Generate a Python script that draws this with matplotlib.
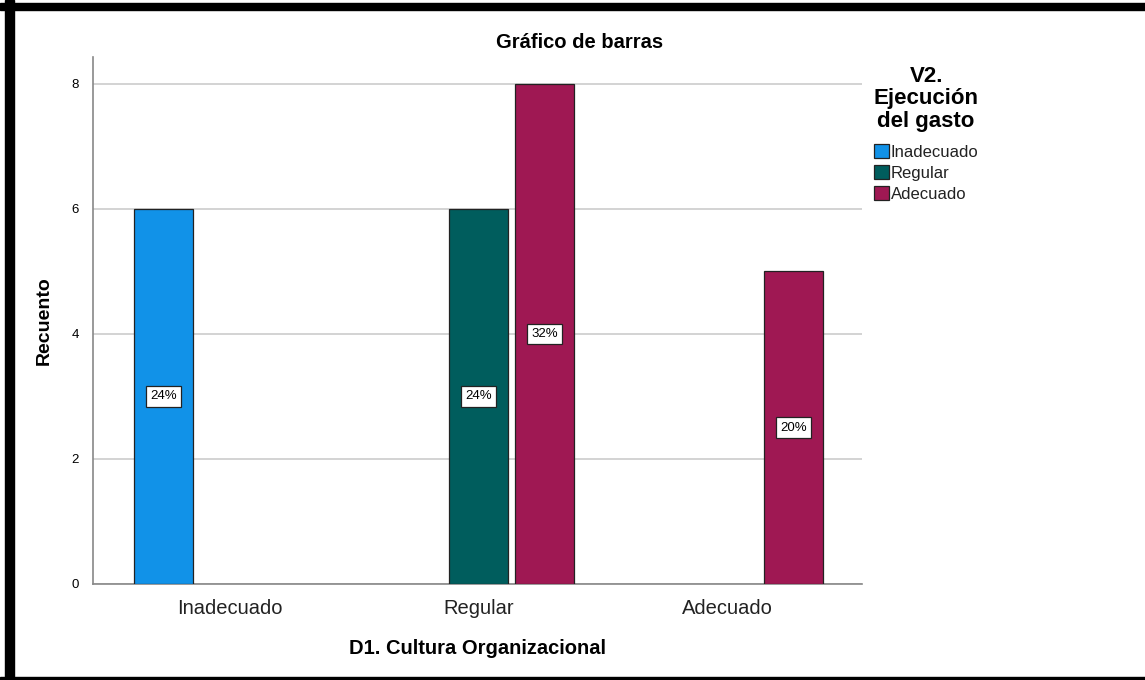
import numpy as np
import matplotlib
matplotlib.use("Agg")
import matplotlib.pyplot as plt
from matplotlib.patches import Rectangle

plt.rcParams['font.family'] = ['Liberation Sans', 'DejaVu Sans']

# datos
categorias = ["Inadecuado", "Regular", "Adecuado"]
series = ["Inadecuado", "Regular", "Adecuado"]
recuento_inadecuado = [6, 0, 0]
recuento_regular = [0, 6, 0]
recuento_adecuado = [0, 8, 5]
colores = ["#1192e8", "#005d5d", "#9f1853"]

valores = [recuento_inadecuado, recuento_regular, recuento_adecuado]
total = sum(sum(v) for v in valores)

fig = plt.figure(figsize=(11.45, 6.8), dpi=100)
ax = fig.add_axes([0.0812, 0.1412, 0.6716, 0.775])

x = np.arange(len(categorias))
paso = 0.265
ancho = 0.237
for i, (nombre, vals, c) in enumerate(zip(series, valores, colores)):
    desplaz = (i - 1) * paso
    # solo las barras con recuento, para no dibujar bordes en cero
    xs = [xi + desplaz for xi, v in zip(x, vals) if v > 0]
    hs = [v for v in vals if v > 0]
    ax.bar(xs, hs, width=ancho, color=c, edgecolor="#222222",
           linewidth=0.9, label=nombre, zorder=3)
    for xi, v in zip(xs, hs):
        ax.text(xi, v / 2, f"{round(v / total * 100)}%",
                ha="center", va="center", fontsize=9.5, zorder=4,
                bbox=dict(boxstyle="square,pad=0.32", fc="white",
                          ec="#222222", lw=0.9))

ax.set_xlim(-0.55, 2.54)
ax.set_ylim(0, 8.43)
ax.set_yticks([0, 2, 4, 6, 8])
ax.set_xticks(x)
ax.set_xticklabels(categorias, fontsize=14.5, color="#222222")
ax.tick_params(axis="y", labelsize=9.5, length=0, pad=10)
ax.tick_params(axis="x", length=0, pad=11)
ax.grid(axis="y", color="#cccccc", linewidth=1.2, zorder=0)
for lado in ["top", "right"]:
    ax.spines[lado].set_visible(False)
for lado in ["left", "bottom"]:
    ax.spines[lado].set_color("#888888")
    ax.spines[lado].set_linewidth(1.2)

fig.text(580 / 1145, 1 - 42 / 680, "Gráfico de barras", fontsize=14.5,
         fontweight="bold", ha="center", va="center")
ax.set_ylabel("Recuento", fontsize=14, fontweight="bold", labelpad=14)
ax.set_xlabel("D1. Cultura Organizacional", fontsize=14.5, fontweight="bold",
              labelpad=15)

leg = ax.legend(title="V2.\nEjecución\ndel gasto", loc="upper left",
                bbox_to_anchor=(1.0, 1.005), frameon=False, fontsize=12,
                handlelength=0.9, handleheight=0.9, handletextpad=0.1,
                labelspacing=0.33, borderaxespad=0.3, alignment="center")
leg.get_title().set_fontweight("bold")
leg.get_title().set_fontsize(16)
leg.get_title().set_linespacing(1.08)
leg.get_title().set_multialignment("center")
leg._legend_box.sep = 9
for t in leg.get_texts():
    t.set_color("#222222")

# marco negro
fig.patches.append(Rectangle((5 / 1145, 0), 9 / 1145, 1, transform=fig.transFigure,
                             color="black", zorder=10))
fig.patches.append(Rectangle((0, 1 - 10 / 680), 1, 7 / 680, transform=fig.transFigure,
                             color="black", zorder=10))
fig.patches.append(Rectangle((0, 0), 1, 3 / 680, transform=fig.transFigure,
                             color="black", zorder=10))

fig.savefig("out.png", dpi=100)
